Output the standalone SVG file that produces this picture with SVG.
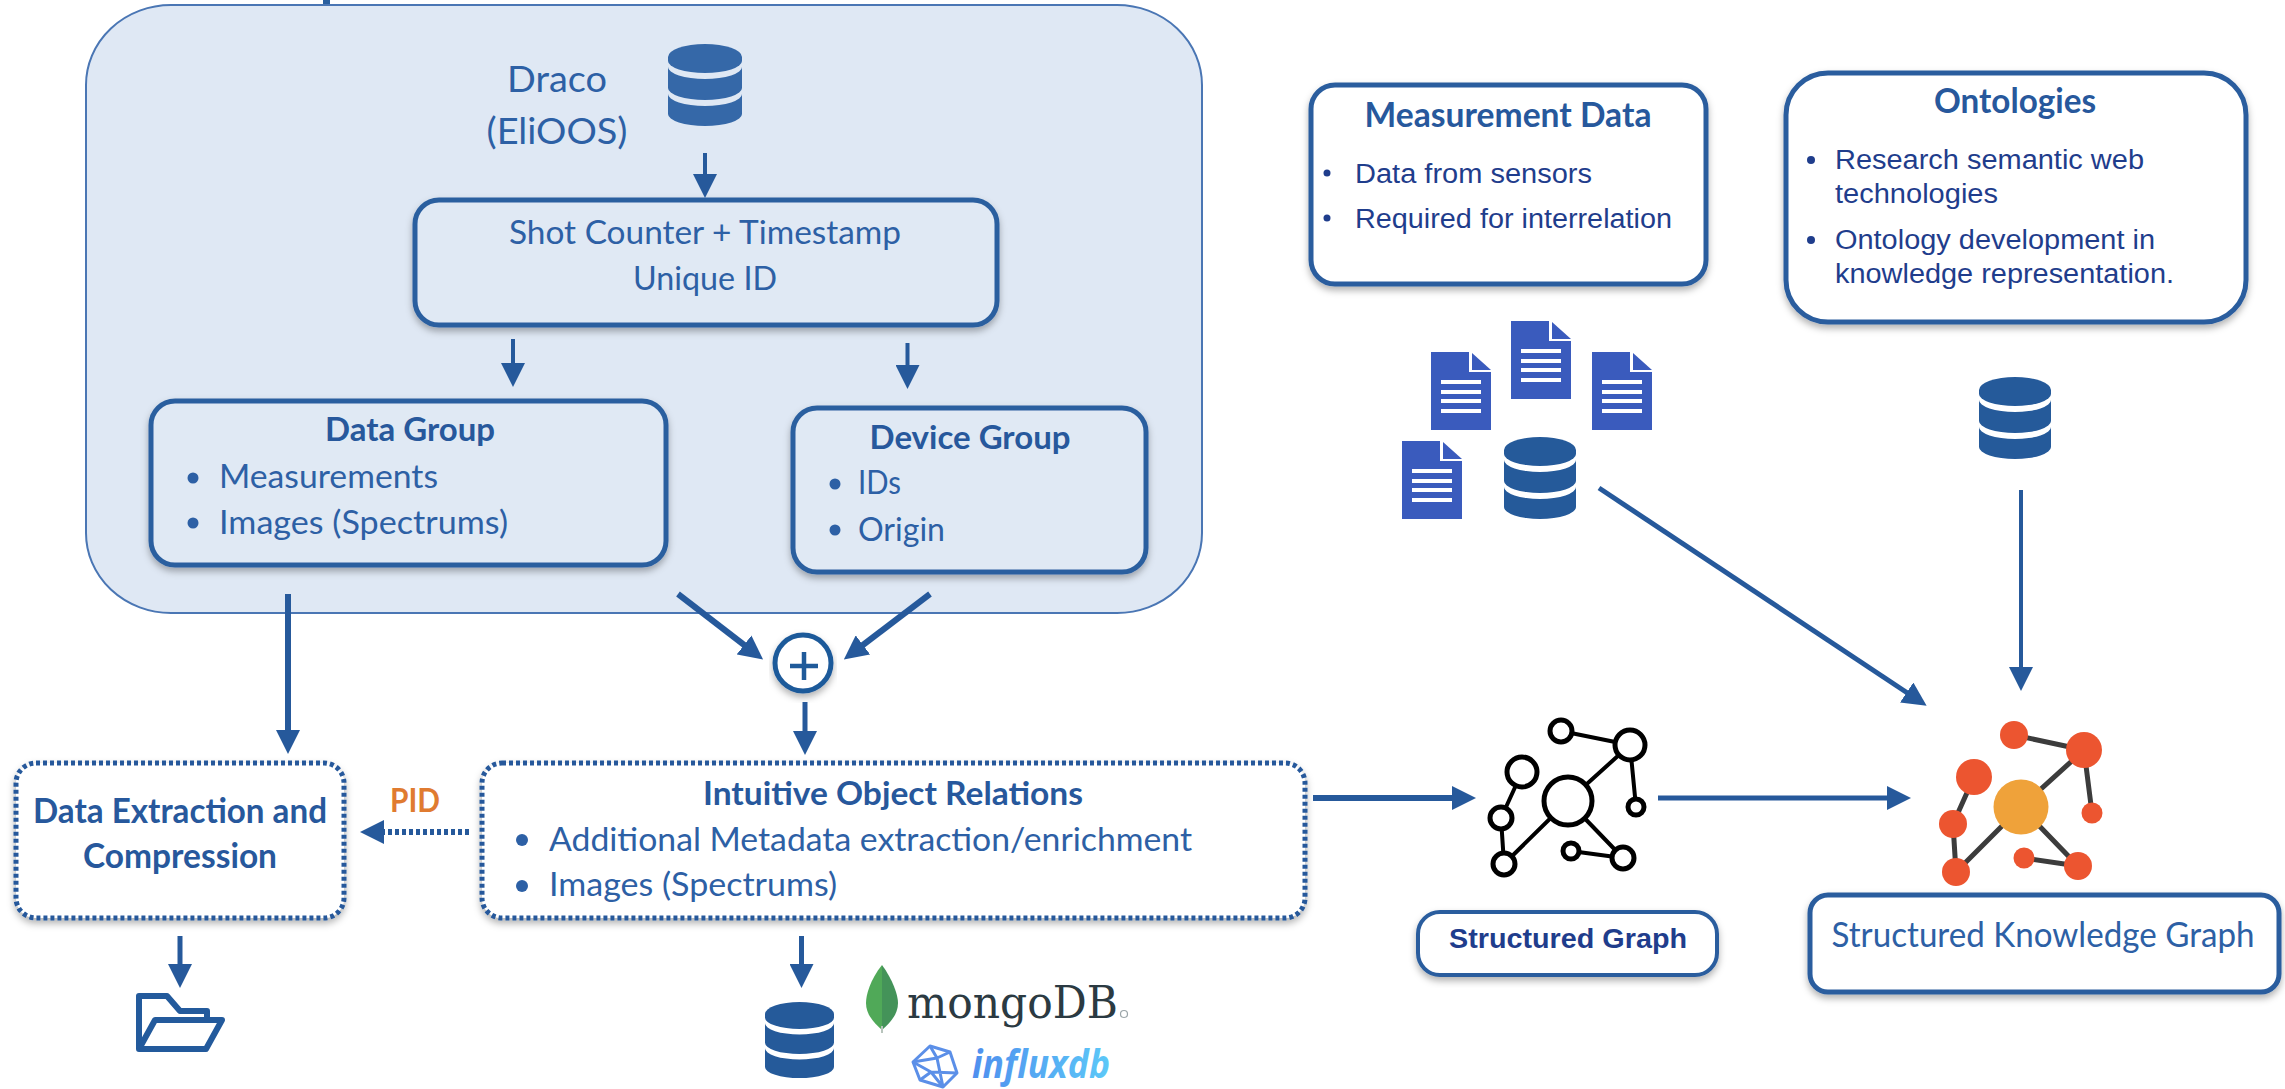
<svg xmlns="http://www.w3.org/2000/svg" width="2285" height="1089" viewBox="0 0 2285 1089">
<defs>
<style>
text{font-family:"Lato","Open Sans","Liberation Sans",sans-serif;fill:#2d60a5}
.c{text-anchor:middle}
.b{font-weight:700;fill:#27589c}
.f32{font-size:32px}
.f34{font-size:34px}
.a{font-family:"Liberation Sans",Arial,sans-serif;fill:#1f3d8c;font-size:27px}
.ab{font-family:"Liberation Sans",Arial,sans-serif;font-weight:700;fill:#1f3d8c;font-size:27px}
.box{stroke:#2c5f9f;stroke-width:5;fill:#e0e9f4;filter:url(#sh)}
.wbox{stroke:#2a5d9e;stroke-width:5;fill:#fff;filter:url(#sh)}
.dot{stroke:#26599b;stroke-width:5;stroke-dasharray:4 3;fill:#fff;filter:url(#sh)}
.con{stroke:#26599b;fill:none;marker-end:url(#ah)}
.bl{fill:#2d60a5}
.bn{fill:#1f3d8c}
.db{fill:#255a9a}
.doc{fill:#3a5bbd}
.ge{stroke:#000;stroke-width:4;fill:none}
.gn{stroke:#000;stroke-width:5;fill:#fff}
.ke{stroke:#3c3c3c;stroke-width:5;fill:none}
.kn{fill:#ec5530}
</style>
<filter id="sh" x="-10%" y="-15%" width="120%" height="135%"><feDropShadow dx="0" dy="4" stdDeviation="3.5" flood-color="#000" flood-opacity=".3"/></filter>
<marker id="ah" markerUnits="userSpaceOnUse" markerWidth="24" markerHeight="24" viewBox="0 0 24 24" refX="10" refY="12" orient="auto"><path d="M0 0L24 12L0 24Z" fill="#26599b"/></marker>
<symbol id="dbi" viewBox="0 0 72 82" preserveAspectRatio="none"><path d="M0 13A36 13 0 0 1 72 13V17A36 12 0 0 1 0 17Z"/><path d="M0 23A36 12 0 0 0 72 23V44A36 12 0 0 1 0 44Z"/><path d="M0 50A36 12 0 0 0 72 50V70A36 12 0 0 1 0 70Z"/></symbol>
<symbol id="doci" viewBox="0 0 60 78"><path class="doc" d="M0 0H38V20H60V78H0Z"/><path class="doc" d="M41 1L60 18H41Z"/><path fill="#fff" d="M10 28H50V32H10ZM10 38H50V42H10ZM10 47H50V51H10ZM10 57H50V61H10Z"/></symbol>
<linearGradient id="ifx" x1="0" x2="1" y1="0" y2="0"><stop offset="0" stop-color="#4f8fee"/><stop offset="1" stop-color="#5cc8f8"/></linearGradient>
</defs>
<rect width="2285" height="1089" fill="#fff"/>
<rect x="323" y="0" width="7" height="4" fill="#2a5f9e"/>
<g id="container"><rect x="86" y="5" width="1116" height="608" rx="85" ry="80" fill="#dfe8f4" stroke="#4a76b4" stroke-width="2"/></g>
<g id="draco"><text class="c" x="557" y="92" font-size="36" textLength="100" lengthAdjust="spacingAndGlyphs">Draco</text><text class="c" x="557" y="144" font-size="36" textLength="141" lengthAdjust="spacingAndGlyphs">(EliOOS)</text><use href="#dbi" x="668" y="44" width="74" height="82" fill="#3568a8"/></g>
<g id="shot"><rect class="box" x="415" y="200" width="582" height="125" rx="24"/><text class="c f32" x="705" y="244" textLength="392" lengthAdjust="spacingAndGlyphs">Shot Counter + Timestamp</text><text class="c f32" x="705" y="290" textLength="144" lengthAdjust="spacingAndGlyphs">Unique ID</text></g>
<g id="data-group"><rect class="box" x="151" y="401" width="515" height="164" rx="24"/><text class="c f32 b" x="410" y="441" textLength="170" lengthAdjust="spacingAndGlyphs">Data Group</text><circle class="bl" cx="193" cy="478" r="5.5"/><text class="f32" x="219" y="488" textLength="219" lengthAdjust="spacingAndGlyphs">Measurements</text><circle class="bl" cx="193" cy="523" r="5.5"/><text class="f32" x="219" y="534" textLength="289" lengthAdjust="spacingAndGlyphs">Images (Spectrums)</text></g>
<g id="device-group"><rect class="box" x="793" y="408" width="353" height="164" rx="24"/><text class="c f32 b" x="970" y="449" textLength="201" lengthAdjust="spacingAndGlyphs">Device Group</text><circle class="bl" cx="835" cy="484" r="5.5"/><text class="f32" x="858" y="494" textLength="43" lengthAdjust="spacingAndGlyphs">IDs</text><circle class="bl" cx="835" cy="530" r="5.5"/><text class="f32" x="858" y="541" textLength="87" lengthAdjust="spacingAndGlyphs">Origin</text></g>
<g id="plus"><circle cx="803" cy="663" r="28" fill="#fff" stroke="#1f5a9a" stroke-width="5" filter="url(#sh)"/><path d="M804 652V680M790 666H818" stroke="#1f5a9a" stroke-width="4.5"/></g>
<g id="extract"><rect class="dot" x="16" y="763" width="328" height="155" rx="20"/><text class="c f34 b" x="180" y="823" textLength="294" lengthAdjust="spacingAndGlyphs">Data Extraction and</text><text class="c f34 b" x="180" y="868" textLength="194" lengthAdjust="spacingAndGlyphs">Compression</text></g>
<g id="relations"><rect class="dot" x="482" y="763" width="823" height="155" rx="20"/><text class="c f32 b" x="893" y="805" textLength="380" lengthAdjust="spacingAndGlyphs">Intuitive Object Relations</text><circle class="bl" cx="522" cy="840" r="6"/><text class="f32" x="549" y="851" textLength="643" lengthAdjust="spacingAndGlyphs">Additional Metadata extraction/enrichment</text><circle class="bl" cx="522" cy="886" r="6"/><text class="f32" x="549" y="896" textLength="288" lengthAdjust="spacingAndGlyphs">Images (Spectrums)</text></g>
<g id="pid"><text class="c b" x="415" y="812" font-size="32" style="fill:#e07b30" textLength="50" lengthAdjust="spacingAndGlyphs">PID</text></g>
<g id="folder" fill="none" stroke="#235a9c" stroke-width="6" stroke-linejoin="round"><path d="M139 1049V996H167L180 1011H207V1020"/><path d="M155 1020H222L206 1049H139Z"/></g>
<g id="store"><use href="#dbi" x="765" y="1002" width="69" height="76" class="db"/></g>
<g id="mongodb"><path d="M882 965C870 980 866 995 866 1003C866 1015 875 1024 882 1030Z" fill="#50a958"/><path d="M882 965C893 980 898 995 898 1003C898 1015 889 1024 882 1030Z" fill="#449359"/><path d="M881 1026H883V1033H881Z" fill="#b8c4bc"/><text x="907" y="1018" font-size="44" style="font-family:'DejaVu Serif','Liberation Serif',serif;fill:#2b3a42" textLength="211" lengthAdjust="spacingAndGlyphs">mongoDB</text><circle cx="1124" cy="1014" r="3.5" fill="none" stroke="#9aa4a8" stroke-width="1.2"/></g>
<g id="influxdb"><g fill="none" stroke="#5b8fe8" stroke-width="3" stroke-linejoin="round"><path d="M930 1046L950 1052L957 1073L943 1087L920 1080L913 1062Z"/><path d="M930 1046L937 1058L950 1052M937 1058L943 1087M937 1058L913 1062M913 1062L931 1072L920 1080M931 1072L943 1087M931 1072L957 1073"/></g><text x="972" y="1078" font-size="39" font-weight="700" font-style="italic" style="font-family:'Open Sans','Liberation Sans',sans-serif;fill:url(#ifx)" textLength="138" lengthAdjust="spacingAndGlyphs">influxdb</text></g>
<g id="measurement"><rect class="wbox" x="1311" y="85" width="395" height="199" rx="24"/><text class="c f34 b" x="1508" y="127" textLength="287" lengthAdjust="spacingAndGlyphs">Measurement Data</text><circle class="bn" cx="1327" cy="173" r="3.5"/><text class="a" x="1355" y="183" textLength="237" lengthAdjust="spacingAndGlyphs">Data from sensors</text><circle class="bn" cx="1327" cy="218" r="3.5"/><text class="a" x="1355" y="228" textLength="317" lengthAdjust="spacingAndGlyphs">Required for interrelation</text></g>
<g id="ontologies"><rect class="wbox" x="1786" y="73" width="460" height="249" rx="42"/><text class="c f34 b" x="2015" y="113" textLength="162" lengthAdjust="spacingAndGlyphs">Ontologies</text><circle class="bn" cx="1811" cy="160" r="4"/><text class="a" x="1835" y="169" textLength="309" lengthAdjust="spacingAndGlyphs">Research semantic web</text><text class="a" x="1835" y="203" textLength="163" lengthAdjust="spacingAndGlyphs">technologies</text><circle class="bn" cx="1811" cy="240" r="4"/><text class="a" x="1835" y="249" textLength="320" lengthAdjust="spacingAndGlyphs">Ontology development in</text><text class="a" x="1835" y="283" textLength="339" lengthAdjust="spacingAndGlyphs">knowledge representation.</text></g>
<g id="documents"><use href="#doci" x="1511" y="321" width="60" height="78"/><use href="#doci" x="1431" y="352" width="60" height="78"/><use href="#doci" x="1592" y="352" width="60" height="78"/><use href="#doci" x="1402" y="441" width="60" height="78"/></g>
<g id="measure-db"><use href="#dbi" x="1504" y="437" width="72" height="82" class="db"/></g>
<g id="onto-db"><use href="#dbi" x="1979" y="377" width="72" height="82" class="db"/></g>
<g id="graph"><path class="ge" d="M1561 731L1630 745M1630 745L1568 801M1630 745L1636 807M1522 772L1501 818M1501 818L1504 864M1568 801L1504 864M1568 801L1623 858M1571 851L1623 858"/><circle class="gn" cx="1561" cy="731" r="11"/><circle class="gn" cx="1630" cy="745" r="15"/><circle class="gn" cx="1522" cy="772" r="15"/><circle class="gn" cx="1568" cy="801" r="24"/><circle class="gn" cx="1501" cy="818" r="11"/><circle class="gn" cx="1636" cy="807" r="8"/><circle class="gn" cx="1504" cy="864" r="11"/><circle class="gn" cx="1571" cy="851" r="8"/><circle class="gn" cx="1623" cy="858" r="11"/></g>
<g id="knowledge-graph"><path class="ke" d="M2014 735L2084 750M2084 750L2021 807M2084 750L2092 813M1974 777L1953 824M1953 824L1956 872M2021 807L1956 872M2021 807L2078 866M2024 858L2078 866"/><circle class="kn" cx="2014" cy="735" r="14"/><circle class="kn" cx="2084" cy="750" r="18"/><circle class="kn" cx="1974" cy="777" r="18"/><circle cx="2021" cy="807" r="27.5" fill="#efa23a"/><circle class="kn" cx="1953" cy="824" r="14"/><circle class="kn" cx="2092" cy="813" r="10.5"/><circle class="kn" cx="1956" cy="872" r="14"/><circle class="kn" cx="2024" cy="858" r="10.5"/><circle class="kn" cx="2078" cy="866" r="14"/></g>
<g id="structured-graph"><rect class="wbox" x="1418" y="912" width="299" height="63" rx="22" style="stroke-width:4"/><text class="c ab" x="1568" y="948" textLength="238" lengthAdjust="spacingAndGlyphs">Structured Graph</text></g>
<g id="structured-kg"><rect class="wbox" x="1810" y="895" width="469" height="97" rx="18"/><text class="c f34" x="2043" y="947" textLength="423" lengthAdjust="spacingAndGlyphs">Structured Knowledge Graph</text></g>
<g id="connectors">
<path class="con" stroke-width="4" d="M705 153V184"/>
<path class="con" stroke-width="4" d="M513 339V373"/>
<path class="con" stroke-width="4" d="M907.5 343V375"/>
<path class="con" stroke-width="6" d="M288 594V740"/>
<path class="con" stroke-width="6" d="M678 594L752 651"/>
<path class="con" stroke-width="6" d="M930 594L855 651"/>
<path class="con" stroke-width="5" d="M805 702V741"/>
<path class="con" stroke-width="5" d="M180 936V974"/>
<path class="con" stroke-width="5" d="M801.5 936V974"/>
<path class="con" stroke-width="6" stroke-dasharray="4 3" d="M469 832H374"/>
<path class="con" stroke-width="6" d="M1313 798H1462"/>
<path class="con" stroke-width="5" d="M1658 798H1897"/>
<path class="con" stroke-width="5" d="M1599 488L1915 698"/>
<path class="con" stroke-width="4" d="M2021 490V677"/>
</g>
</svg>
